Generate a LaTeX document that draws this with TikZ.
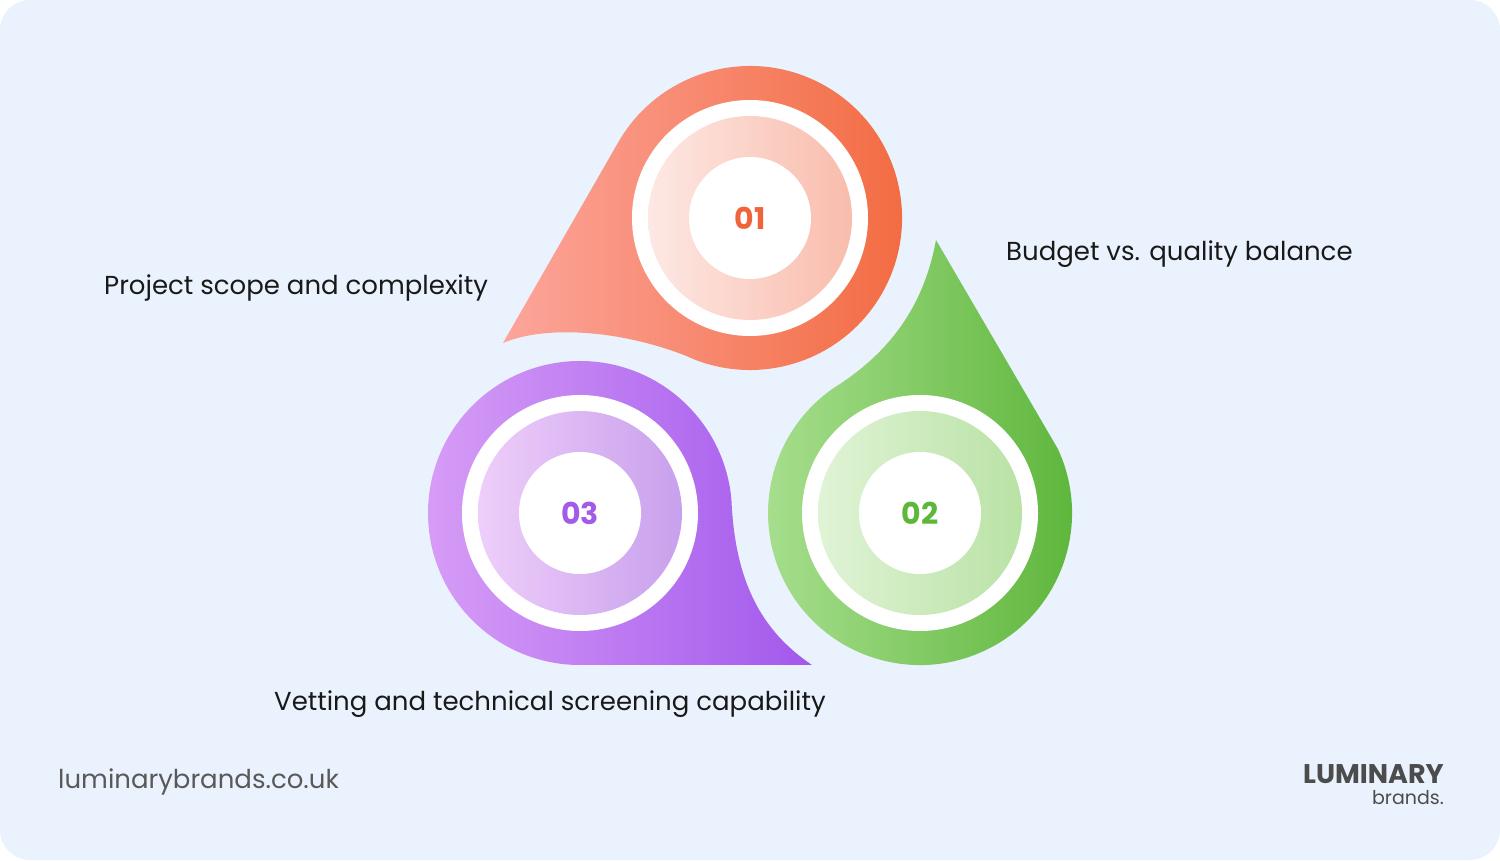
\documentclass[tikz,border=0pt]{standalone}
\usepackage{fontspec}
\setmainfont{Poppins}
\begin{document}
\begin{tikzpicture}[x=1pt,y=1pt,
  lab/.style={font=\fontsize{26}{30}\selectfont, text=black!90, anchor=west, inner sep=0},
  num/.style={font=\fontsize{30}{34}\selectfont\bfseries}]
\definecolor{bg}{HTML}{EAF3FD}
\useasboundingbox (0,0) rectangle (1500,860);
\fill[white] (0,0) rectangle (1500,860);
\fill[bg, rounded corners=30] (0,0) rectangle (1500,860);
% teardrop 1
\coordinate (T1) at (503,517);
\shade[left color={rgb,255:red,252;green,165;blue,155}, right color={rgb,255:red,242;green,105;blue,62}]
  (T1) -- (618.4,718) arc[start angle=150,end angle=-115,radius=152]
  .. controls (620,530) and (545,535) .. (T1) -- cycle;
% teardrop 2
\coordinate (T2) at (936,620);
\shade[left color={rgb,255:red,170;green,224;blue,145}, right color={rgb,255:red,90;green,180;blue,55}]
  (T2) -- (1057.8,411.2) arc[start angle=25,end angle=-235,radius=152]
  .. controls (895,510) and (925,560) .. (T2) -- cycle;
% teardrop 3
\coordinate (T3) at (812,195);
\shade[shading angle=45, left color={rgb,255:red,214;green,156;blue,246}, right color={rgb,255:red,162;green,88;blue,236}]
  (T3) -- (580,195) arc[start angle=-90,end angle=-355,radius=152]
  .. controls (735,280) and (760,230) .. (T3) -- cycle;
% rings
\fill[white] (750,642) circle (118);
\shade[shading angle=-60,left color={rgb,255:red,253;green,232;blue,228}, right color={rgb,255:red,249;green,188;blue,172}] (750,642) circle (102);
\node[circle, fill=white, minimum size=122, inner sep=0] (n1) at (750,642) {};
\node[num, text={rgb,255:red,240;green,100;blue,58}] at (n1) {01};
\fill[white] (920,347) circle (118);
\shade[shading angle=-60,left color={rgb,255:red,224;green,243;blue,214}, right color={rgb,255:red,185;green,226;blue,165}] (920,347) circle (102);
\node[circle, fill=white, minimum size=122, inner sep=0] (n2) at (920,347) {};
\node[num, text={rgb,255:red,93;green,184;blue,58}] at (n2) {02};
\fill[white] (580,347) circle (118);
\shade[shading angle=-60,left color={rgb,255:red,238;green,206;blue,250}, right color={rgb,255:red,200;green,160;blue,236}] (580,347) circle (102);
\node[circle, fill=white, minimum size=122, inner sep=0] (n3) at (580,347) {};
\node[num, text={rgb,255:red,163;green,90;blue,232}] at (n3) {03};
% labels
\node[lab] (l1) at (104,572) {Project scope and complexity};
\node[lab] (l2) at (1006,606) {Budget vs. quality balance};
\node[lab] (l3) at (274,156) {Vetting and technical screening capability};
\node[lab, text=black!65] (url) at (58,78) {luminarybrands.co.uk};
\node[font=\fontsize{27}{27}\selectfont\bfseries, text=black!70, anchor=east, inner sep=0] (logo) at (1444,86) {LUMINARY};
\node[font=\fontsize{19}{19}\selectfont, text=black!70, anchor=east, inner sep=0] (brand) at (1444,62) {brands.};
\end{tikzpicture}
\end{document}
